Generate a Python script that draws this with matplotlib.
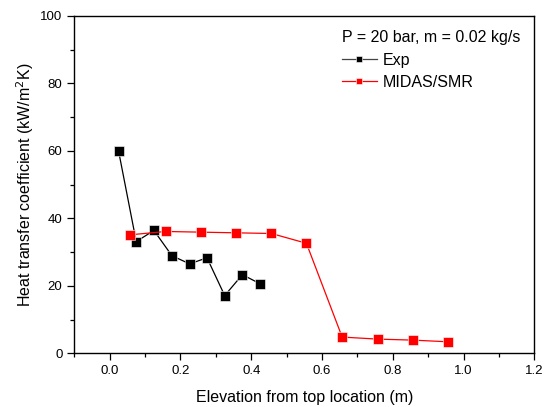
import numpy as np
import matplotlib
matplotlib.use('Agg')
import matplotlib.pyplot as plt
from matplotlib.ticker import MultipleLocator

plt.rcParams['font.family'] = ['Liberation Sans', 'DejaVu Sans']

# Dados
exp_x = [0.025, 0.075, 0.125, 0.176, 0.226, 0.275, 0.325, 0.375, 0.425]
exp_y = [60.0, 33.1, 36.4, 28.9, 26.5, 28.3, 17.1, 23.3, 20.6]

midas_x = [0.057, 0.158, 0.258, 0.358, 0.457, 0.556, 0.657, 0.757, 0.857, 0.957]
midas_y = [35.1, 36.1, 35.9, 35.7, 35.5, 32.6, 4.8, 4.2, 3.9, 3.4]

fig = plt.figure(figsize=(5.48, 4.07), dpi=100)
ax = fig.add_axes([0.1356, 0.132, 0.8394, 0.829])

ax.plot(exp_x, exp_y, color='black', lw=0.9, marker='s', ms=6.5,
        mfc='black', mec='white', mew=0.4, label='Exp')
ax.plot(midas_x, midas_y, color='red', lw=0.9, marker='s', ms=6.5,
        mfc='red', mec='white', mew=0.4, label='MIDAS/SMR')

ax.set_xlim(-0.1, 1.2)
ax.set_ylim(0, 100)
ax.xaxis.set_major_locator(MultipleLocator(0.2))
ax.xaxis.set_minor_locator(MultipleLocator(0.1))
ax.yaxis.set_major_locator(MultipleLocator(20))
ax.yaxis.set_minor_locator(MultipleLocator(10))
ax.tick_params(which='major', direction='out', length=5, width=0.9, labelsize=9.5)
ax.tick_params(which='minor', direction='out', length=3, width=0.9)
ax.tick_params(top=False, right=False, which='both')
for s in ax.spines.values():
    s.set_linewidth(1.0)

ax.set_xlabel('Elevation from top location (m)', fontsize=11.5, labelpad=9)
ax.set_ylabel('Heat transfer coefficient (kW/m$^2$K)', fontsize=11.5, labelpad=3)

leg = ax.legend(title='P = 20 bar, m = 0.02 kg/s', loc='upper right',
                frameon=False, fontsize=11.5, title_fontsize=11.5,
                handlelength=2.2, handletextpad=0.35, labelspacing=0.45,
                markerscale=0.75, borderaxespad=0.3,
                bbox_to_anchor=(0.993, 0.99))
leg._legend_box.align = 'left'
leg.get_lines()[0].set_color('#444444')

fig.savefig('out.png', dpi=100)
